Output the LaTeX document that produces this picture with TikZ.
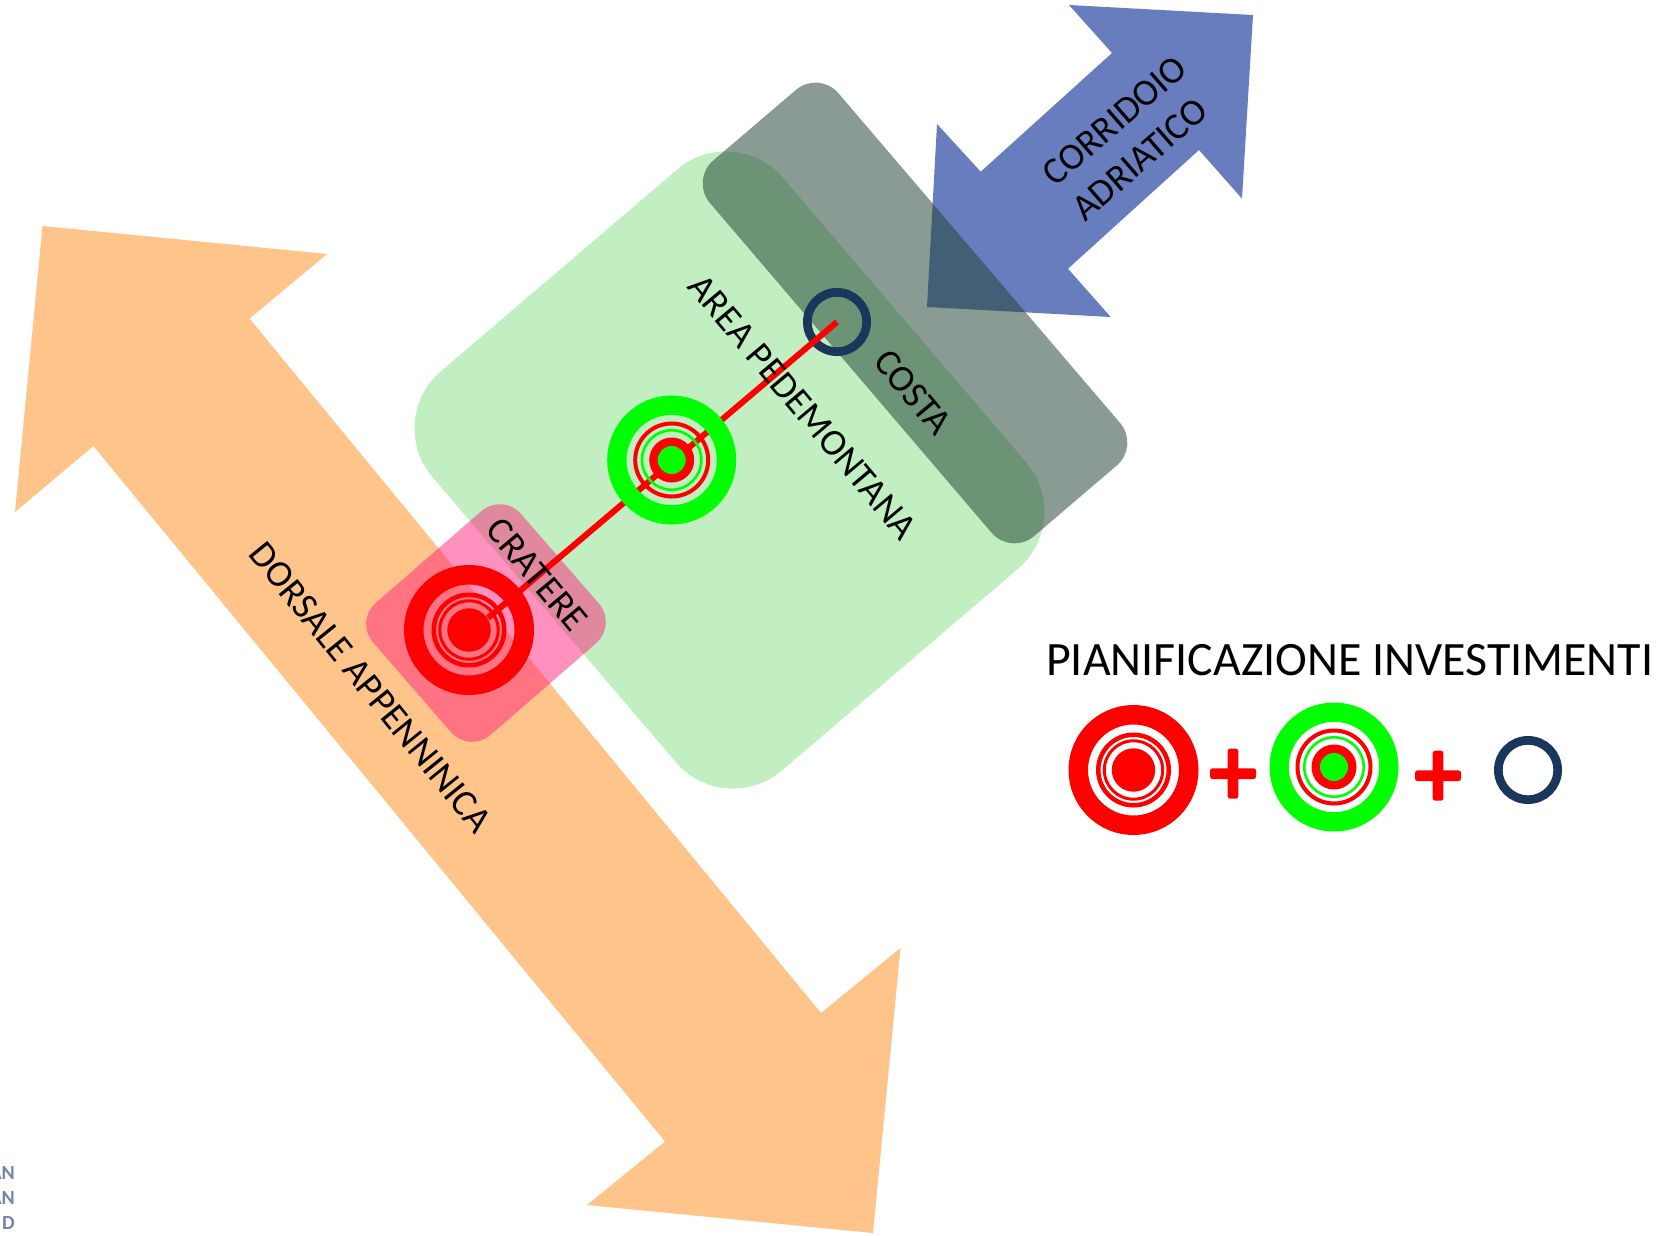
\documentclass[tikz,border=0pt]{standalone}
\usepackage{fontspec}
\setmainfont{Carlito}
\definecolor{ora}{HTML}{FFC48A}
\definecolor{blu}{HTML}{677DBE}
\definecolor{lgr}{HTML}{C1EFC1}
\definecolor{tea}{RGB}{38,70,57}
\definecolor{pnk}{RGB}{255,35,125}
\definecolor{nav}{HTML}{1B365D}
\definecolor{logo}{HTML}{7483A8}
\definecolor{vgreen}{RGB}{0,255,0}
\tikzset{
  x=1pt,y=-1pt,
  zone/.style={rectangle,draw=none,inner sep=0pt,outer sep=0pt,rotate=41},
  ringo/.style n args={3}{circle,draw=#1,fill=none,inner sep=0pt,outer sep=0pt,minimum size=(2*#2-#3)*1pt,line width=#3pt},
  disco/.style n args={2}{circle,fill=#1,draw=none,inner sep=0pt,outer sep=0pt,minimum size=#2*2pt},
  lab/.style={font=\fontsize{37.5}{46}\selectfont,text=black,inner sep=0pt,align=center},
  plusbar/.style={rectangle,fill=red,draw=none,rounded corners=2.5pt,inner sep=0pt,outer sep=0pt},
  logotext/.style={font=\fontsize{20}{24}\selectfont\bfseries,text=logo,anchor=east,inner sep=0pt},
  redtarget/.pic={
    \node[ringo={red}{65}{19.5}] (o) at (0,0) {};
    \node[ringo={red}{37.5}{4.5}] (a) at (0,0) {};
    \node[ringo={red}{30.7}{3}] (b) at (0,0) {};
    \node[disco={red}{21.7}] (c) at (0,0) {};
  },
  greentarget/.pic={
    \node[ringo={vgreen}{64.5}{19.3}] (o) at (0,0) {};
    \node[ringo={red}{38.5}{4}] (a) at (0,0) {};
    \node[ringo={vgreen}{31}{2.6}] (b) at (0,0) {};
    \node[disco={red}{22.5}] (c) at (0,0) {};
    \node[disco={vgreen}{14}] (d) at (0,0) {};
  },
}
\begin{document}
\begin{tikzpicture}
\useasboundingbox (0,0) rectangle (1665,1235);
% arrows
\fill[ora] (42.5,226) -- (327,254) -- (249.5,318.6) -- (821,1013) -- (900.5,948) -- (873,1233) -- (587,1205) -- (665,1141.5) -- (93.4,446) -- (15,512) -- cycle;
\fill[blu] (1069,5) -- (1253,15) -- (1242,198.6) -- (1199,150) -- (1068,268.7) -- (1110.7,317) -- (927,307) -- (937,124) -- (980.7,171.7) -- (1112,53) -- cycle;
% zones
\node[zone,rotate=-.5,fill=lgr,minimum width=461pt,minimum height=525pt,rounded corners=75pt] (pede) at (729.5,470) {};
\node[zone,rotate=-.5,fill=tea,fill opacity=.54,minimum width=169pt,minimum height=494pt,rounded corners=30pt] (costa) at (915,313) {};
\node[zone,fill=pnk,fill opacity=.5,minimum width=196pt,minimum height=175pt,rounded corners=28pt] (crat) at (486,623) {};
% connector
\node[ringo={nav}{34}{8.7}] (coast) at (837,322) {};
\coordinate (lineend) at (488,618);
\draw[red,line width=6pt] (coast.center) -- (lineend);
% targets
\pic (t1) at (469,630) {redtarget};
\pic (t2) at (671.7,460) {greentarget};
% labels
\node[lab,rotate=-51] (ldors) at (370.5,687.5) {DORSALE APPENNINICA};
\node[lab,rotate=-50] (lpede) at (803,407) {AREA PEDEMONTANA};
\node[lab,rotate=-50] (lcost) at (913,392) {COSTA};
\node[lab,rotate=-50] (lcrat) at (537,574.5) {CRATERE};
\node[lab,rotate=41] (lcorr) at (1129.6,138) {CORRIDOIO\\\hspace*{-12pt}ADRIATICO};
% legend
\node[font=\fontsize{47.9}{56}\selectfont,anchor=west,inner sep=0pt] (title) at (1046,660) {PIANIFICAZIONE INVESTIMENTI};
\pic (l1) at (1133.5,770) {redtarget};
\node[plusbar,minimum width=46pt,minimum height=10.7pt] (p1h) at (1233,773.7) {};
\node[plusbar,minimum width=10.7pt,minimum height=50pt] (p1v) at (1233,773.7) {};
\pic (l2) at (1334,767) {greentarget};
\node[plusbar,minimum width=46pt,minimum height=10.7pt] (p2h) at (1438,775.7) {};
\node[plusbar,minimum width=10.7pt,minimum height=50pt] (p2v) at (1438,775.7) {};
\node[ringo={nav}{34}{8.7}] (lcoast) at (1528,770) {};
% logo fragment
\node[logotext] (lg1) at (15,1173) {AN};
\node[logotext] (lg2) at (15,1198) {AN};
\node[logotext] (lg3) at (15,1223) {D};
\end{tikzpicture}
\end{document}
